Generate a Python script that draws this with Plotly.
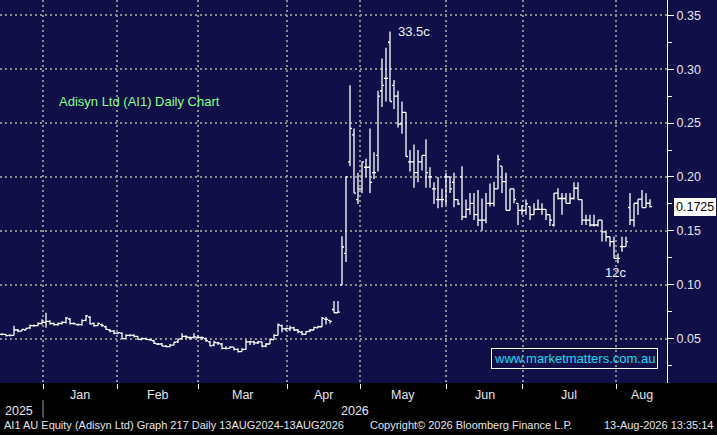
import numpy as np
import plotly.graph_objects as go

# daily OHLC bars, one per trading day (index = bar number)
opens = [
    .054, .054, .053, .053, .058, .057, .058, .060, .062, .062,
    .064, .065, .066, .064, .063, .064, .065, .068, .064, .063,
    .063, .067, .070, .064, .062, .063, .061, .058, .057, .055,
    .055, .050, .053, .053, .052, .049, .050, .049, .048, .045,
    .045, .043, .0425, .044, .047, .050, .052, .051, .051, .051,
    .051, .050, .047, .044, .046, .045, .041, .041, .042, .040,
    .038, .040, .047, .047, .046, .047, .043, .045, .049, .053,
    .062, .059, .059, .060, .058, .056, .054, .057, .058, .060,
    .061, .068, .067, .077, .074, .0998, .129, .214, .239, .179,
    .189, .209, .209, .204, .220, .280, .2915, .325, .285, .275,
    .249, .260, .214, .214, .204, .214, .220, .200, .189, .179,
    .179, .200, .200, .195, .179, .200, .163, .170, .1755, .165,
    .160, .160, .1755, .1755, .189, .210, .1956, .169, .189, .1755,
    .169, .169, .1725, .165, .170, .170, .170, .165, .1554, .185,
    .180, .180, .1755, .180, .1895, .179, .160, .160, .1554, .1554,
    .160, .149, .1445, .140, .1244, .1353, .1353, .1716, .160, .1756,
    .1794, .1716, .1756,
]
highs = [
    .055, .054, .054, .062, .059, .059, .060, .063, .063, .065,
    .068, .074, .067, .065, .065, .066, .070, .069, .065, .064,
    .068, .072, .071, .065, .065, .064, .062, .059, .058, .056,
    .056, .054, .054, .054, .052, .051, .051, .050, .049, .046,
    .046, .044, .045, .047, .050, .055, .053, .052, .055, .053,
    .052, .051, .048, .048, .047, .046, .043, .043, .042, .041,
    .041, .049, .048, .048, .048, .047, .046, .050, .054, .064,
    .063, .060, .062, .061, .059, .057, .057, .059, .061, .062,
    .070, .070, .067, .085, .085, .145, .200, .285, .245, .204,
    .214, .217, .245, .223, .280, .310, .320, .335, .290, .280,
    .270, .260, .225, .230, .225, .220, .235, .209, .195, .200,
    .189, .204, .200, .204, .179, .210, .179, .185, .185, .188,
    .180, .185, .194, .1956, .2205, .210, .204, .189, .189, .1755,
    .174, .179, .1725, .1755, .179, .1755, .170, .165, .185, .1895,
    .185, .185, .185, .195, .195, .179, .165, .165, .165, .160,
    .160, .149, .1445, .1445, .129, .1446, .1446, .185, .1756, .1794,
    .1879, .1848, .1794,
]
lows = [
    .053, .052, .052, .053, .056, .057, .058, .059, .061, .062,
    .063, .060, .063, .062, .062, .063, .064, .063, .063, .062,
    .062, .066, .063, .061, .062, .061, .058, .056, .054, .054,
    .050, .050, .052, .051, .049, .049, .049, .048, .045, .044,
    .043, .042, .042, .044, .046, .049, .050, .049, .050, .050,
    .049, .047, .043, .043, .044, .040, .040, .041, .039, .037,
    .038, .040, .044, .044, .045, .042, .042, .045, .049, .053,
    .056, .057, .057, .057, .055, .053, .054, .056, .058, .060,
    .061, .063, .064, .074, .074, .0998, .121, .210, .185, .175,
    .185, .200, .185, .198, .205, .265, .270, .270, .263, .246,
    .240, .219, .205, .190, .195, .206, .190, .190, .175, .171,
    .172, .174, .185, .172, .174, .160, .162, .165, .160, .1545,
    .150, .157, .1725, .1725, .189, .185, .169, .169, .1755, .1554,
    .165, .165, .160, .165, .170, .165, .160, .1545, .154, .179,
    .165, .1755, .175, .179, .179, .1554, .1554, .154, .154, .154,
    .140, .140, .1353, .1244, .120, .1306, .1353, .1554, .1539, .1647,
    .1716, .1716, .1716,
]
closes = [
    .054, .0527, .053, .058, .057, .0586, .0595, .062, .062, .064,
    .065, .066, .064, .063, .064, .065, .069, .064, .0636, .063,
    .0666, .071, .0636, .062, .064, .062, .0585, .057, .055, .0555,
    .050, .053, .0533, .052, .0493, .050, .0493, .0487, .0456, .045,
    .0431, .0425, .044, .0466, .0495, .052, .0515, .0508, .0516, .051,
    .0508, .048, .0433, .0464, .0458, .041, .041, .042, .040, .038,
    .040, .047, .047, .046, .047, .043, .045, .049, .053, .0626,
    .059, .0595, .060, .058, .0565, .0542, .0565, .058, .0605, .061,
    .0687, .0678, .066, .074, .0745, .135, .200, .245, .185, .189,
    .214, .209, .195, .204, .275, .285, .2915, .270, .275, .249,
    .260, .219, .214, .204, .214, .220, .204, .200, .189, .179,
    .179, .200, .189, .179, .175, .163, .170, .1755, .165, .160,
    .160, .1755, .1755, .189, .216, .1956, .169, .189, .179, .169,
    .169, .175, .165, .170, .170, .170, .165, .160, .185, .180,
    .180, .1755, .180, .1895, .179, .160, .160, .1554, .1554, .160,
    .149, .1445, .140, .1244, .1244, .1353, .140, .160, .1756, .1794,
    .1716, .1756, .1725,
]

# month boundaries on the bar-number axis, and their labels
month_starts = [10.25, 28.75, 49, 71.25, 89.5, 111.1, 130.2, 153.5]
month_labels = ["Jan", "Feb", "Mar", "Apr", "May", "Jun", "Jul", "Aug"]
price_ticks = [0.05, 0.10, 0.15, 0.20, 0.25, 0.30, 0.35]

NAVY = "#100f47"
TXT = "#e4e4ec"
FONT = "Liberation Sans, Arial, sans-serif"

bars = list(range(len(closes)))
x_range = [-0.5, 166.25]
y_range = [0.0088, 0.3642]
last = closes[-1]

fig = go.Figure()

fig.add_trace(go.Ohlc(
    x=bars, open=opens, high=highs, low=lows, close=closes,
    increasing_line_color="white", decreasing_line_color="white",
    line_width=1.3, tickwidth=0.5, hoverinfo="skip",
))

# little pointer arrows next to the price labels
fig.add_trace(go.Scatter(
    x=[x_range[1] + 1.4] * len(price_ticks), y=price_ticks, mode="markers",
    marker=dict(symbol="triangle-right", size=6, color="white"),
    cliponaxis=False, hoverinfo="skip", showlegend=False,
))
# pointer of the last-price tag
fig.add_trace(go.Scatter(
    x=[x_range[1] + 1.6], y=[last], mode="markers",
    marker=dict(symbol="triangle-left", size=12, color="white"),
    cliponaxis=False, hoverinfo="skip", showlegend=False,
))


def note(text, x, y, xref="paper", yref="paper", xanchor="center", size=12.5, color=TXT, **kw):
    fig.add_annotation(x=x, y=y, xref=xref, yref=yref, xanchor=xanchor, yanchor="middle",
                       text=text, showarrow=False, font=dict(family=FONT, size=size, color=color), **kw)


# month labels centred between the boundaries
edges = month_starts + [x_range[1]]
for i, lab in enumerate(month_labels):
    note(lab, (edges[i] + edges[i + 1]) / 2, -0.031, xref="x")

note("2025", 0.004, -0.073, xanchor="left")
note("2026", 0.532, -0.073)
fig.add_shape(type="line", xref="x", yref="paper", x0=month_starts[0], x1=month_starts[0],
              y0=-0.045, y1=-0.09, line=dict(color="#a0a0a0", width=1))

# footer
note("AI1 AU Equity (Adisyn Ltd) Graph 217 Daily 13AUG2024-13AUG2026", 0.003, -0.11, xanchor="left", size=11)
note("Copyright\u00a9 2026 Bloomberg Finance L.P.", 0.552, -0.11, xanchor="left", size=11)
note("13-Aug-2026 13:35:14", 1.072, -0.11, xanchor="right", size=11)

# chart notes
note("Adisyn Ltd (AI1) Daily Chart", 0.0855, 0.734, xanchor="left", size=13, color="#86ff86")
pk = int(np.argmax(highs))
note("33.5c", pk, highs[pk], xref="x", yref="y", xanchor="left", size=13, color="#eaf4ff", xshift=6)
lo = int(np.argmin(lows[100:])) + 100
note("12c", lo, lows[lo], xref="x", yref="y", size=13, color="#eaf4ff", xshift=-3, yshift=-9)
note("www.marketmatters.com.au", 0.862, 0.064, size=13, color="#10dcf0",
     bordercolor="white", borderwidth=1, borderpad=2)

# last price tag
note(f"{last:.4f}", 1.011, last, yref="y", xanchor="left", color="black",
     bgcolor="white", bordercolor="white", borderpad=1)

# navy strip behind the price axis
fig.add_shape(type="rect", xref="paper", yref="paper", x0=1, x1=1.08, y0=0, y1=1,
              fillcolor=NAVY, line_width=0, layer="below")

fig.update_layout(
    width=717, height=435,
    margin=dict(l=0, r=50, t=0, b=52),
    paper_bgcolor="black", plot_bgcolor=NAVY,
    showlegend=False,
    xaxis=dict(range=x_range, tickvals=month_starts, showticklabels=False,
               ticks="outside", ticklen=5, tickcolor="white",
               showgrid=True, gridcolor="#8c8c8c", gridwidth=1.6, griddash="2px,3px",
               zeroline=False, showline=False, rangeslider=dict(visible=False)),
    yaxis=dict(range=y_range, side="right", tickvals=price_ticks,
               ticktext=[f"{v:.2f}" for v in price_ticks],
               ticks="outside", ticklen=6, tickcolor="white",
               minor=dict(ticks="outside", ticklen=4, dtick=0.025, tick0=0, tickcolor="white", showgrid=False),
               tickfont=dict(family=FONT, size=12.5, color=TXT),
               showgrid=True, gridcolor="#8c8c8c", gridwidth=1.6, griddash="2px,3px",
               showline=True, linecolor="white", linewidth=1, zeroline=False),
)

# the page body has a default margin; drop it so the chart sits at the window corner
fig.write_html("out.html", config={"displayModeBar": False},
               post_script="document.body.style.margin='0';")
